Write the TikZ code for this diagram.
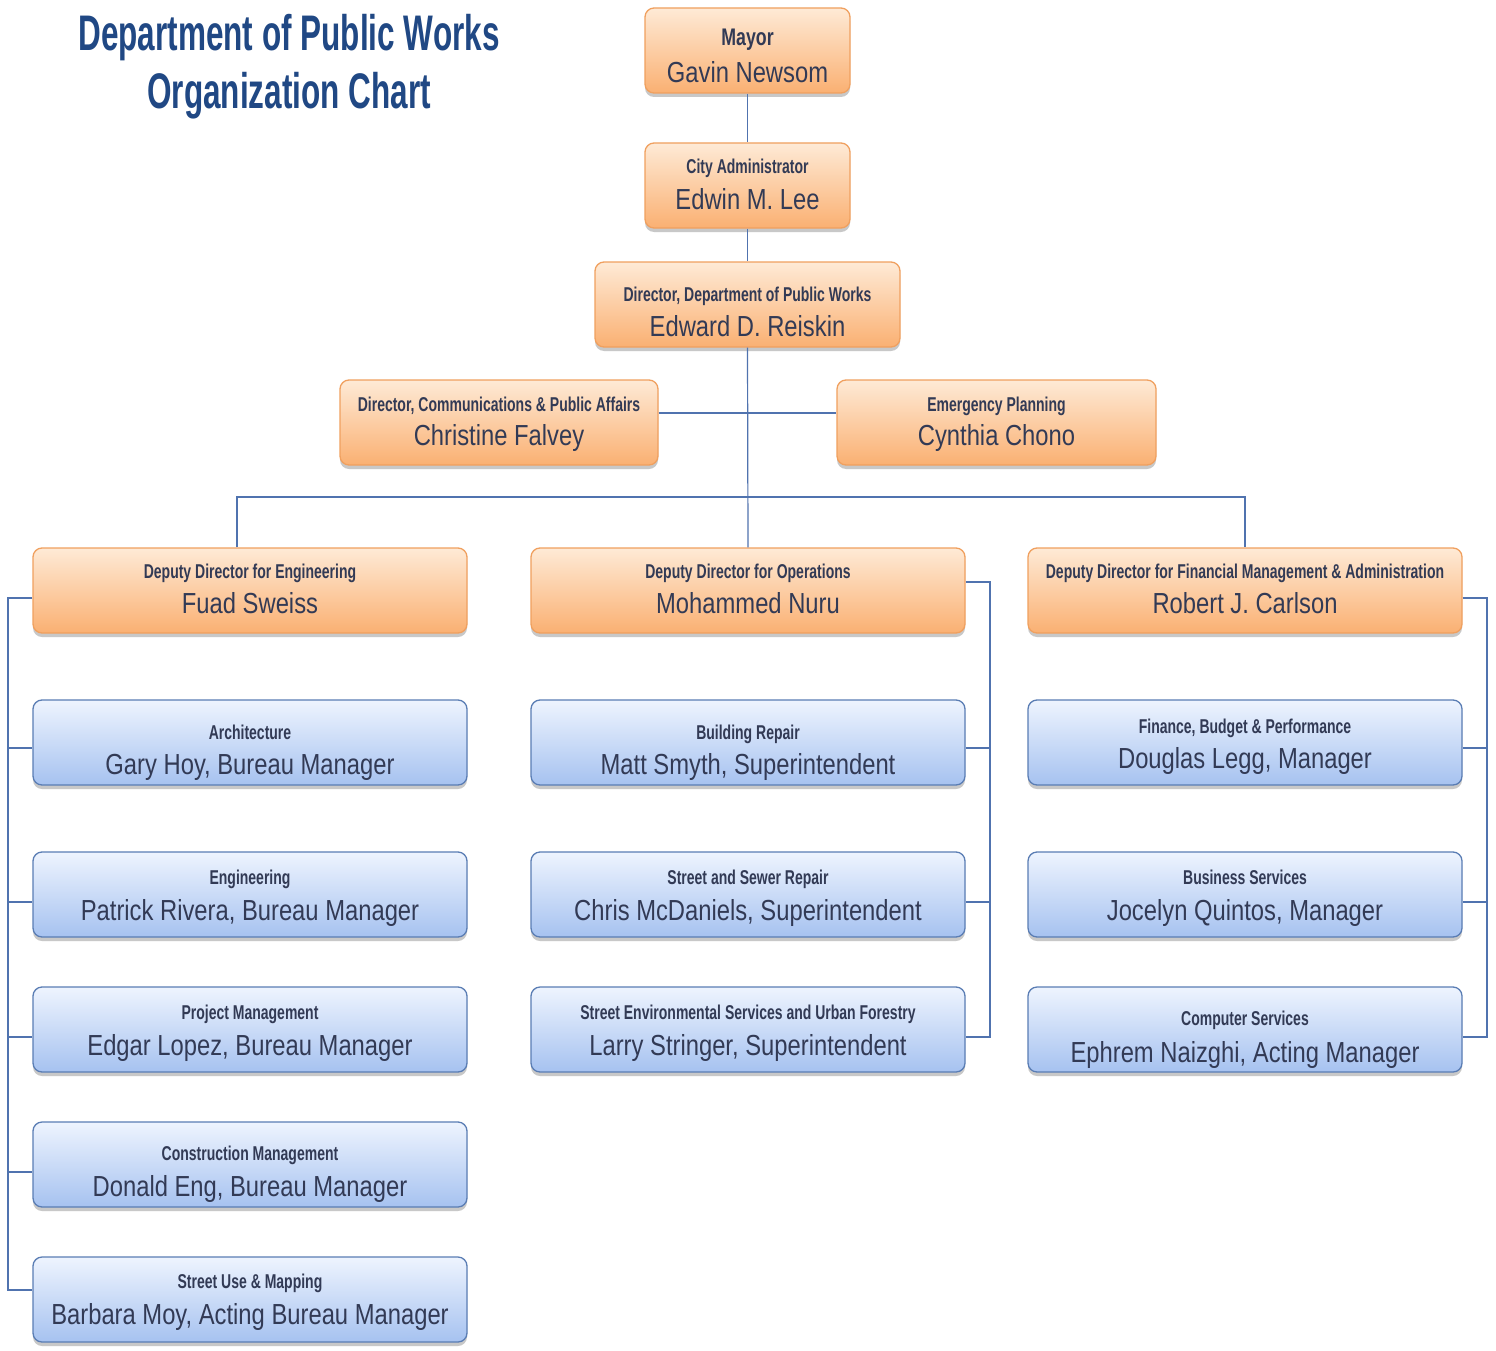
\documentclass[tikz,border=0pt]{standalone}
\usepackage{fontspec}
\setmainfont{Liberation Sans}
\newfontfamily\labf[FakeStretch=0.70]{Liberation Sans}
\newfontfamily\mayf[FakeStretch=0.74]{Liberation Sans}
\newfontfamily\namef[FakeStretch=0.82]{Liberation Sans}
\newfontfamily\titf[FakeStretch=0.63]{Liberation Sans}
\usetikzlibrary{shadows,calc}
\definecolor{otop}{RGB}{254,234,214}
\definecolor{obot}{RGB}{250,176,114}
\definecolor{oedge}{RGB}{240,160,95}
\definecolor{btop}{RGB}{238,244,254}
\definecolor{bbot}{RGB}{166,194,240}
\definecolor{bedge}{RGB}{90,125,180}
\definecolor{linec}{RGB}{80,115,175}
\definecolor{txt}{RGB}{50,58,85}
\definecolor{titc}{RGB}{32,72,132}
\tikzset{
  box/.style={rectangle, rounded corners=9pt, line width=1.3pt, inner sep=0pt,
    minimum height=85pt, drop shadow={shadow xshift=0pt, shadow yshift=-4pt, opacity=0.3, fill=black!70}},
  obox/.style={box, draw=oedge, top color=otop, bottom color=obot},
  bbox/.style={box, draw=bedge, top color=btop, bottom color=bbot},
  lab/.style={anchor=base, inner sep=0pt, text=txt, font=\labf\bfseries\fontsize{20}{22}\selectfont},
  nam/.style={anchor=base, inner sep=0pt, text=txt, font=\namef\fontsize{29}{32}\selectfont},
  conn/.style={draw=linec, line width=1.2pt},
  tit/.style={anchor=base, inner sep=0pt, text=titc, font=\titf\bfseries\fontsize{50}{56}\selectfont}
}
% \bx{name}{style}{left}{right}{top}{label}{person}{labeloffset}{nameoffset}
\newcommand{\bx}[9]{%
  \node[#2, minimum width=#4-#3] (#1) at ({(#3+#4)/2},{#5+42.5}) {};
  \node[lab] (#1-l) at ({(#3+#4)/2},{#5+#8}) {#6};
  \node[nam] (#1-n) at ({(#3+#4)/2},{#5+#9}) {#7};
}
\begin{document}
\begin{tikzpicture}[x=1pt,y=-1pt]
\useasboundingbox (0,0) rectangle (1496,1351);
\fill[white] (0,0) rectangle (1496,1351);

% title
\node[tit] (t1) at (289,51) {Department of Public Works};
\node[tit] (t2) at (289,109) {Organization Chart};

% connector coordinates
\coordinate (hl) at (237,497);
\coordinate (hr) at (1245,497);
\coordinate (cm) at (748,413);
\coordinate (le0) at (8,598);
\coordinate (le1) at (8,748);
\coordinate (le2) at (8,902);
\coordinate (le3) at (8,1037);
\coordinate (le4) at (8,1172);
\coordinate (le5) at (8,1290);
\coordinate (me0) at (990,582);
\coordinate (me1) at (990,748);
\coordinate (me2) at (990,902);
\coordinate (me3) at (990,1037);
\coordinate (re0) at (1487,598);
\coordinate (re1) at (1487,748);
\coordinate (re2) at (1487,902);
\coordinate (re3) at (1487,1037);

% boxes
\bx{mayor}{obox}{645}{850}{8}{\mayf\bfseries\fontsize{24}{26}\selectfont Mayor}{Gavin Newsom}{38}{75}
\bx{cadm}{obox}{645}{850}{143}{City Administrator}{Edwin M. Lee}{31}{67}
\bx{dir}{obox}{595}{900}{262}{Director, Department of Public Works}{Edward D. Reiskin}{39}{74}
\bx{comm}{obox}{340}{658}{380}{Director, Communications \& Public Affairs}{Christine Falvey}{31}{65}
\bx{emer}{obox}{837}{1156}{380}{Emergency Planning}{Cynthia Chono}{31}{65}
\bx{deng}{obox}{33}{467}{548}{Deputy Director for Engineering}{Fuad Sweiss}{30}{65}
\bx{dops}{obox}{531}{965}{548}{Deputy Director for Operations}{Mohammed Nuru}{30}{65}
\bx{dfin}{obox}{1028}{1462}{548}{Deputy Director for Financial Management \& Administration}{Robert J. Carlson}{30}{65}

\bx{arch}{bbox}{33}{467}{700}{Architecture}{Gary Hoy, Bureau Manager}{39}{74}
\bx{engi}{bbox}{33}{467}{852}{Engineering}{Patrick Rivera, Bureau Manager}{32}{68}
\bx{proj}{bbox}{33}{467}{987}{Project Management}{Edgar Lopez, Bureau Manager}{32}{68}
\bx{cons}{bbox}{33}{467}{1122}{Construction Management}{Donald Eng, Bureau Manager}{38}{74}
\bx{suse}{bbox}{33}{467}{1257}{Street Use \& Mapping}{Barbara Moy, Acting Bureau Manager}{31}{67}

\bx{brep}{bbox}{531}{965}{700}{Building Repair}{Matt Smyth, Superintendent}{39}{74}
\bx{ssr}{bbox}{531}{965}{852}{Street and Sewer Repair}{Chris McDaniels, Superintendent}{32}{68}
\bx{ses}{bbox}{531}{965}{987}{Street Environmental Services and Urban Forestry}{Larry Stringer, Superintendent}{32}{68}

\bx{fbp}{bbox}{1028}{1462}{700}{Finance, Budget \& Performance}{Douglas Legg, Manager}{33}{68}
\bx{bus}{bbox}{1028}{1462}{852}{Business Services}{Jocelyn Quintos, Manager}{32}{68}
\bx{comp}{bbox}{1028}{1462}{987}{Computer Services}{Ephrem Naizghi, Acting Manager}{38}{75}

% connectors
\draw[conn] (mayor.south) -- (cadm.north);
\draw[conn] (cadm.south) -- (dir.north);
\draw[conn] (dir.south) -- (dops.north);
\draw[conn] (comm.east |- cm) -- (emer.west |- cm);
\draw[conn] (deng.north -| hl) -- (hl) -- (hr) -- (dfin.north -| hr);

\draw[conn] (deng.west |- le0) -- (le0) -- (le5) -- (suse.west |- le5);
\draw[conn] (le1) -- (arch.west |- le1);
\draw[conn] (le2) -- (engi.west |- le2);
\draw[conn] (le3) -- (proj.west |- le3);
\draw[conn] (le4) -- (cons.west |- le4);

\draw[conn] (dops.east |- me0) -- (me0) -- (me3) -- (ses.east |- me3);
\draw[conn] (me1) -- (brep.east |- me1);
\draw[conn] (me2) -- (ssr.east |- me2);

\draw[conn] (dfin.east |- re0) -- (re0) -- (re3) -- (comp.east |- re3);
\draw[conn] (re1) -- (fbp.east |- re1);
\draw[conn] (re2) -- (bus.east |- re2);
\end{tikzpicture}
\end{document}
